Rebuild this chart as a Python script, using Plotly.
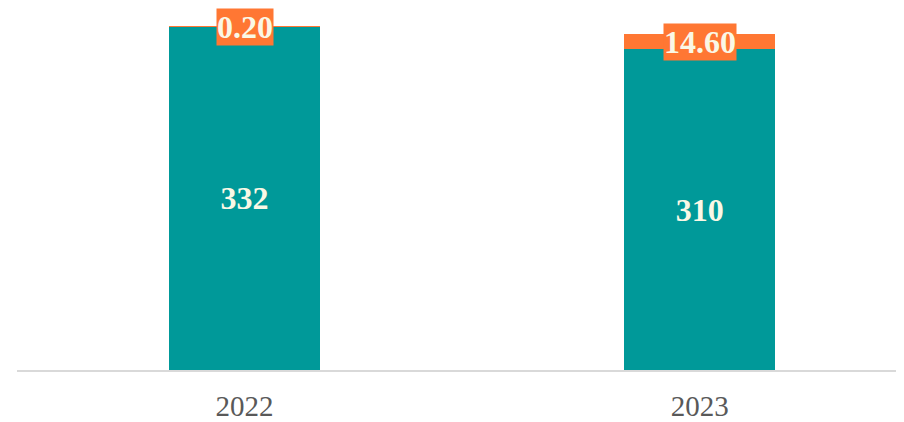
import plotly.graph_objects as go

years = ["2022", "2023"]
base_values = [332, 310]
extra_values = [0.20, 14.60]
base_labels = ["332", "310"]
extra_labels = ["0.20", "14.60"]

TEAL = "#009999"
ORANGE = "#FF7733"
LABEL = "#FAF8E6"
FONT = "Liberation Serif, Times New Roman, serif"

fig = go.Figure()
fig.add_trace(go.Bar(
    x=years, y=base_values, marker=dict(color=TEAL, line=dict(width=0)),
    width=0.332, text=base_labels, textposition="inside", insidetextanchor="middle",
    textfont=dict(family=FONT, size=32, color=LABEL), texttemplate="<b>%{text}</b>",
    constraintext="none", hoverinfo="skip",
))
fig.add_trace(go.Bar(
    x=years, y=extra_values, marker=dict(color=ORANGE, line=dict(width=0)),
    width=0.332, hoverinfo="skip",
))

for i, (b, e, lab) in enumerate(zip(base_values, extra_values, extra_labels)):
    fig.add_annotation(
        x=i, y=b + e / 2, xref="x", yref="y", text=f"<b>{lab}</b>", showarrow=False,
        font=dict(family=FONT, size=32, color=LABEL), bgcolor=ORANGE, borderpad=0,
        xanchor="center", yanchor="middle",
    )

fig.update_layout(
    barmode="stack", width=896, height=414, showlegend=False,
    paper_bgcolor="white", plot_bgcolor="white",
    margin=dict(l=9, r=0, t=0, b=48),
    xaxis=dict(type="category", range=[-0.5, 1.449], showline=True, linecolor="#D9D9D9", linewidth=2,
               showgrid=False, zeroline=False, ticks="outside", ticklen=9, tickcolor="rgba(0,0,0,0)",
               tickfont=dict(family=FONT, size=29, color="#595959")),
    yaxis=dict(range=[0, 350], visible=False, showgrid=False, zeroline=False),
)

fig.write_html("out.html")
